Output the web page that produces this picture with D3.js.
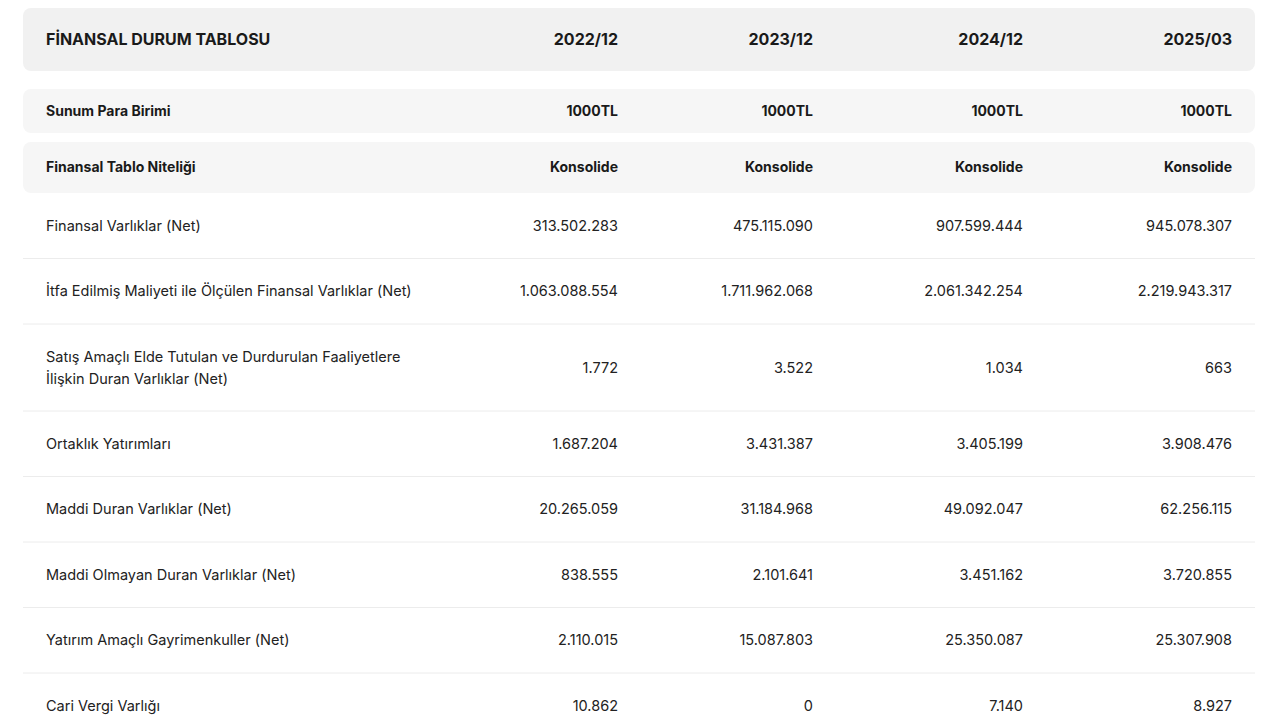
<!DOCTYPE html>
<html><head><meta charset="utf-8">
<script src="https://cdn.jsdelivr.net/npm/d3@7/dist/d3.min.js"></script>
<style>
body{margin:0;background:#fff;font-family:Inter,"Open Sans",sans-serif;}
</style></head>
<body><svg id="chart" width="1280" height="720"></svg>
<script>
var periods = ["2022/12", "2023/12", "2024/12", "2025/03"];
var currency = ["1000TL", "1000TL", "1000TL", "1000TL"];
var nature = ["Konsolide", "Konsolide", "Konsolide", "Konsolide"];
var labels = [
  ["Finansal Varlıklar (Net)"],
  ["İtfa Edilmiş Maliyeti ile Ölçülen Finansal Varlıklar (Net)"],
  ["Satış Amaçlı Elde Tutulan ve Durdurulan Faaliyetlere", "İlişkin Duran Varlıklar (Net)"],
  ["Ortaklık Yatırımları"],
  ["Maddi Duran Varlıklar (Net)"],
  ["Maddi Olmayan Duran Varlıklar (Net)"],
  ["Yatırım Amaçlı Gayrimenkuller (Net)"],
  ["Cari Vergi Varlığı"]
];
var values = [
  ["313.502.283", "475.115.090", "907.599.444", "945.078.307"],
  ["1.063.088.554", "1.711.962.068", "2.061.342.254", "2.219.943.317"],
  ["1.772", "3.522", "1.034", "663"],
  ["1.687.204", "3.431.387", "3.405.199", "3.908.476"],
  ["20.265.059", "31.184.968", "49.092.047", "62.256.115"],
  ["838.555", "2.101.641", "3.451.162", "3.720.855"],
  ["2.110.015", "15.087.803", "25.350.087", "25.307.908"],
  ["10.862", "0", "7.140", "8.927"]
];

var svg = d3.select("#chart");
var colX = [618, 813, 1023, 1232];
var left = 23, right = 1255, labelX = 46;

function band(y, h, fill, title, cells, size) {
  svg.append("rect").attr("x", left).attr("y", y).attr("width", right - left).attr("height", h)
    .attr("rx", 8).attr("fill", fill);
  svg.append("text").attr("x", labelX).attr("y", y + h / 2).attr("dy", "0.35em")
    .attr("font-size", size).attr("font-weight", 700).attr("fill", "#1a1a1a").text(title);
  svg.selectAll(null).data(cells).enter().append("text")
    .attr("x", function (d, i) { return colX[i]; }).attr("y", y + h / 2).attr("dy", "0.35em")
    .attr("text-anchor", "end").attr("font-size", size).attr("font-weight", 700)
    .attr("fill", "#1a1a1a").text(function (d) { return d; });
}

band(8, 63, "#f1f1f1", "FİNANSAL DURUM TABLOSU", periods, 16);
band(89, 44, "#f6f6f6", "Sunum Para Birimi", currency, 14);
band(142, 51, "#f6f6f6", "Finansal Tablo Niteliği", nature, 14);

var y = 193;
labels.forEach(function (lab, r) {
  var h = lab.length > 1 ? 87 : 65.5;
  var cy = y + h / 2;
  var t = svg.append("text").attr("x", labelX).attr("font-size", 14.5).attr("fill", "#222");
  lab.forEach(function (line, k) {
    t.append("tspan").attr("x", labelX)
      .attr("y", cy + (k - (lab.length - 1) / 2) * 22).attr("dy", "0.35em").text(line);
  });
  svg.selectAll(null).data(values[r]).enter().append("text")
    .attr("x", function (d, i) { return colX[i]; }).attr("y", cy).attr("dy", "0.35em")
    .attr("text-anchor", "end").attr("font-size", 14.5).attr("fill", "#222")
    .text(function (d) { return d; });
  y += h;
  if (r < labels.length - 1)
    svg.append("line").attr("x1", left).attr("x2", right).attr("y1", y).attr("y2", y)
      .attr("stroke", "#ececec").attr("stroke-width", 1);
});
</script></body></html>
